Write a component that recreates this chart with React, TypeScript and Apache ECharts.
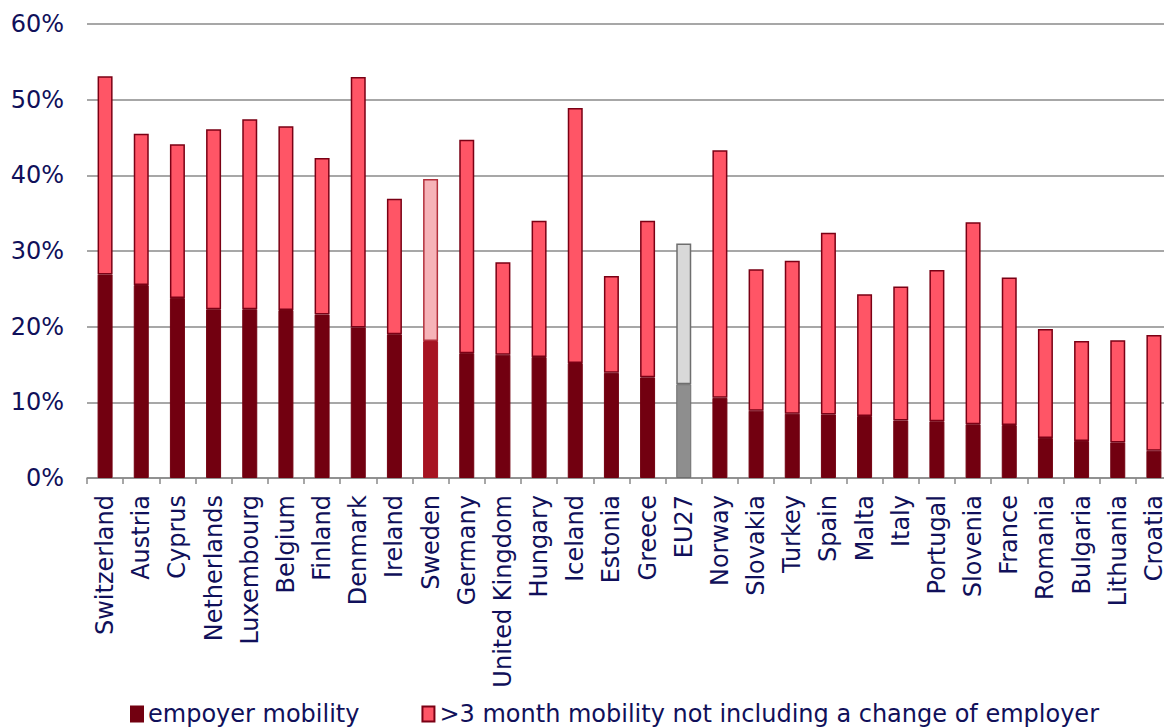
import React, { useEffect, useRef } from "react";
import * as echarts from "echarts";

const categories = [
  "Switzerland", "Austria", "Cyprus", "Netherlands", "Luxembourg", "Belgium", "Finland",
  "Denmark", "Ireland", "Sweden", "Germany", "United Kingdom", "Hungary", "Iceland",
  "Estonia", "Greece", "EU27", "Norway", "Slovakia", "Turkey", "Spain", "Malta", "Italy",
  "Portugal", "Slovenia", "France", "Romania", "Bulgaria", "Lithuania", "Croatia",
];

const employerMobility = [
  26.9, 25.5, 23.8, 22.3, 22.3, 22.2, 21.6, 19.9, 19.0, 18.1, 16.5, 16.3, 16.0, 15.2,
  13.9, 13.3, 12.4, 10.6, 8.9, 8.5, 8.4, 8.2, 7.6, 7.5, 7.1, 7.0, 5.3, 4.9, 4.7, 3.6,
];

const otherMobility = [
  26.2, 20.0, 20.3, 23.8, 25.1, 24.3, 20.7, 33.1, 17.9, 21.4, 28.2, 12.2, 18.0, 33.7,
  12.8, 20.7, 18.6, 32.7, 18.7, 20.2, 24.0, 16.1, 17.7, 20.0, 26.7, 19.5, 14.4, 13.2, 13.5, 15.3,
];

const yTicks = [0, 10, 20, 30, 40, 50, 60];

const seriesNames = ["empoyer mobility", ">3 month mobility not including a change of employer"];

const TEXT = "#10105a";
const FONT = "'DejaVu Sans', Verdana, sans-serif";

export default function App() {
  const ref = useRef<HTMLDivElement>(null);
  useEffect(() => {
    if (!ref.current) return;
    const chart = echarts.init(ref.current, undefined, { renderer: "svg" });
    const special: Record<string, { bottom: any; top: any }> = {
      Sweden: {
        bottom: { color: "#a61422", borderColor: "#a61422" },
        top: { color: "#f6b3b8", borderColor: "#b2303c" },
      },
      EU27: {
        bottom: { color: "#8e8e8e", borderColor: "#6e6e6e" },
        top: { color: "#d9d9d9", borderColor: "#6e6e6e" },
      },
    };
    const bottomData = employerMobility.map((v, i) => {
      const s = special[categories[i]];
      return s ? { value: v, itemStyle: s.bottom } : v;
    });
    const topData = otherMobility.map((v, i) => {
      const s = special[categories[i]];
      return s ? { value: v, itemStyle: s.top } : v;
    });
    chart.setOption({
      animation: false,
      textStyle: { fontFamily: FONT },
      grid: { left: 87, top: 24, width: 1085, height: 454, containLabel: false },
      legend: {
        left: 130,
        top: 702,
        padding: 0,
        itemWidth: 12,
        itemHeight: 15,
        itemGap: 62,
        icon: "rect",
        textStyle: { fontSize: 24, color: TEXT, fontFamily: FONT },
        data: seriesNames,
      },
      xAxis: {
        type: "category",
        data: categories,
        axisLine: { show: true, lineStyle: { color: "#8a8a8a", width: 1.5 } },
        axisTick: { show: true, length: 6, lineStyle: { color: "#8a8a8a", width: 1.5 } },
        axisLabel: {
          interval: 0,
          rotate: 90,
          margin: 17,
          fontSize: 24,
          color: TEXT,
          fontFamily: FONT,
        },
      },
      yAxis: {
        type: "value",
        min: yTicks[0],
        max: yTicks[yTicks.length - 1],
        interval: 10,
        axisLine: { show: false },
        axisTick: { show: false },
        splitLine: { lineStyle: { color: "#8a8a8a", width: 1.5 } },
        axisLabel: {
          formatter: "{value}%",
          fontSize: 24,
          color: TEXT,
          margin: 23,
          fontFamily: FONT,
        },
      },
      series: [
        {
          name: seriesNames[0],
          type: "bar",
          stack: "total",
          barWidth: 15,
          data: bottomData,
          itemStyle: { color: "#720010", borderColor: "#720010", borderWidth: 1 },
        },
        {
          name: seriesNames[1],
          type: "bar",
          stack: "total",
          barWidth: 15,
          data: topData,
          itemStyle: { color: "#ff5566", borderColor: "#7a0014", borderWidth: 1.5 },
        },
      ],
    });
    return () => chart.dispose();
  }, []);
  return (
    <div style={{ position: "absolute", left: 0, top: 0, width: 1164, height: 727, overflow: "hidden", background: "#fff" }}>
      <div ref={ref} style={{ width: 1180, height: 727 }} />
    </div>
  );
}
